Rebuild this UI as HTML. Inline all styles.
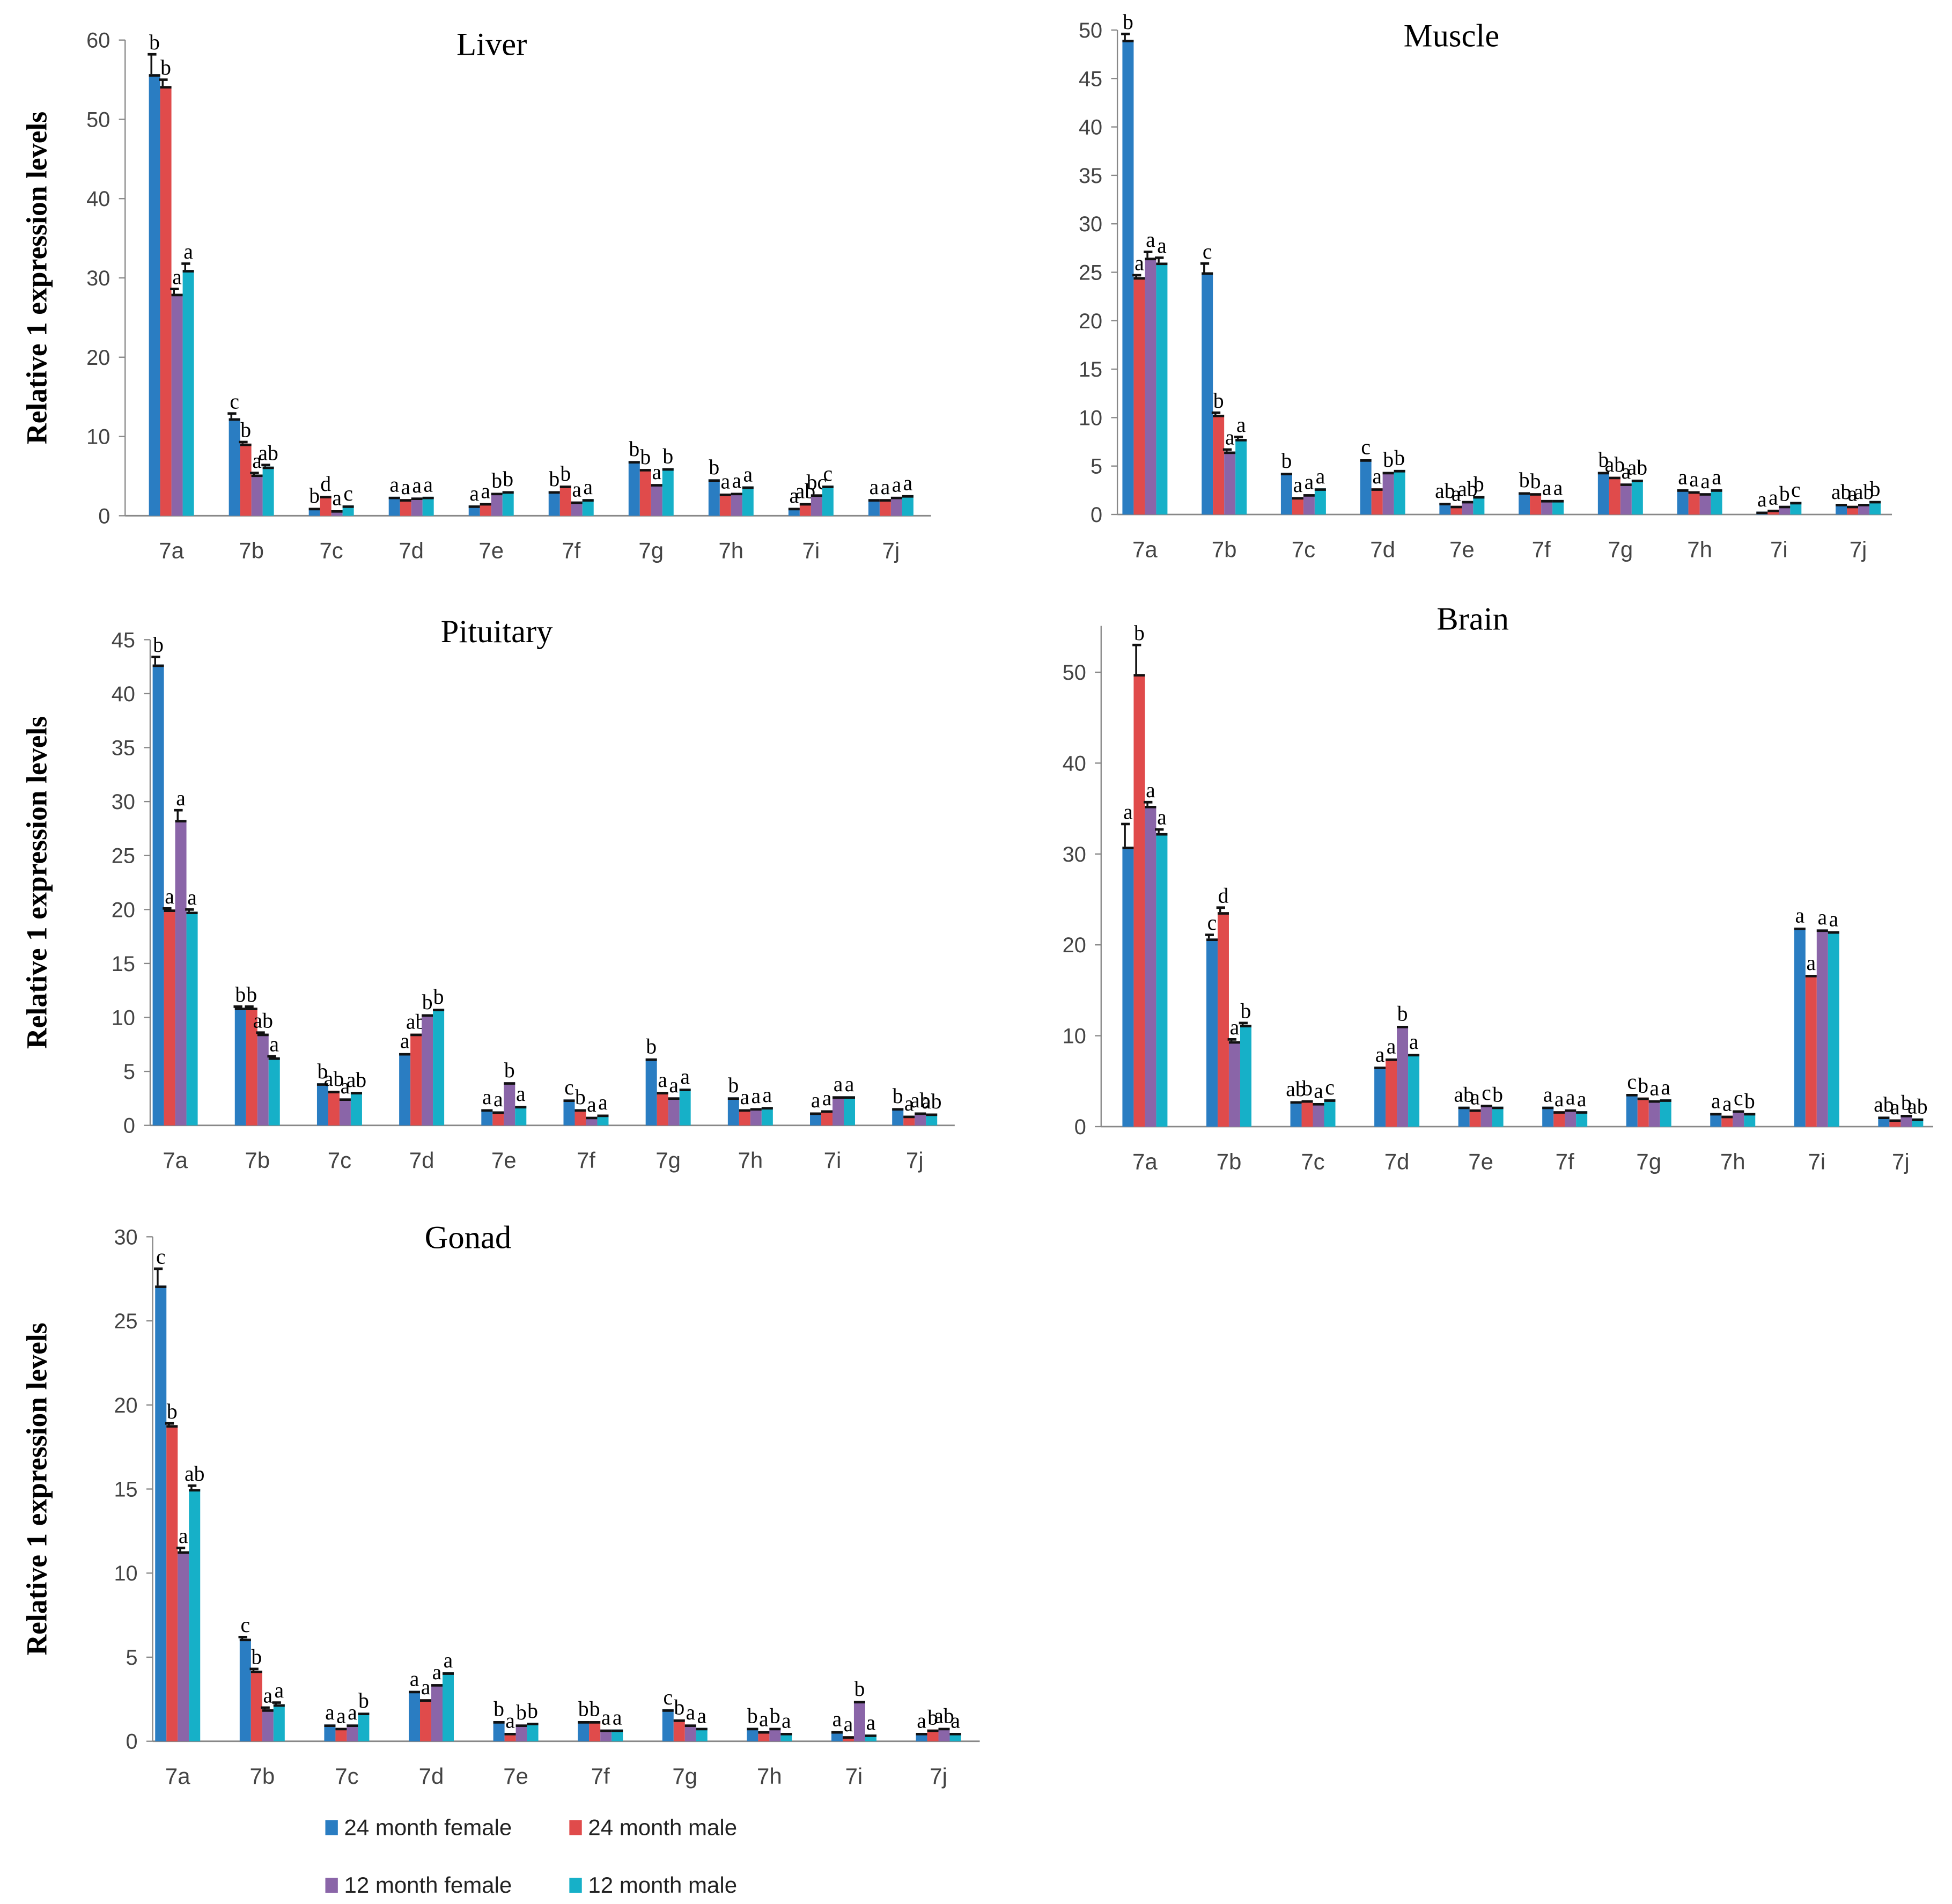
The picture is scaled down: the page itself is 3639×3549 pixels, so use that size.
<!DOCTYPE html>
<html><head><meta charset="utf-8"><style>
html,body{margin:0;padding:0;background:#fff}
svg{display:block}
</style></head><body>
<svg id="fig" width="3639" height="3549" viewBox="0 0 1560 1521" preserveAspectRatio="none" xmlns="http://www.w3.org/2000/svg">
<g font-family="Liberation Sans, sans-serif" font-size="18" fill="#222">
<rect x="260" y="1454" width="10" height="12" fill="#2a7dc2"/>
<text x="275" y="1466">24 month female</text>
<rect x="455" y="1454" width="10" height="12" fill="#e04b4b"/>
<text x="470" y="1466">24 month male</text>
<rect x="260" y="1500" width="10" height="12" fill="#8a65a8"/>
<text x="275" y="1512">12 month female</text>
<rect x="455" y="1500" width="10" height="12" fill="#16b0c8"/>
<text x="470" y="1512">12 month male</text>
</g>
</svg>
<script>
const categories = ["7a","7b","7c","7d","7e","7f","7g","7h","7i","7j"];
const seriesColors = ["#2a7dc2","#e04b4b","#8a65a8","#16b0c8"];
const liverValues = [[55.7,54.2,28,31],[12.3,9.1,5.2,6.2],[1.0,2.5,0.7,1.3],[2.4,2.1,2.3,2.4],[1.3,1.6,2.9,3.1],[3.1,3.8,1.8,2.1],[6.9,5.9,4.0,6.0],[4.6,2.8,2.9,3.7],[1.0,1.6,2.7,3.8],[2.1,2.1,2.4,2.6]];
const liverErrors = [[2.5,0.8,0.6,0.8],[0.6,0.2,0.2,0.2]];
const liverLetters = [["b","b","a","a"],["c","b","a","ab"],["b","d","a","c"],["a","a","a","a"],["a","a","b","b"],["b","b","a","a"],["b","b","a","b"],["b","a","a","a"],["a","ab","bc","c"],["a","a","a","a"]];
const liverTicks = [0,10,20,30,40,50,60];
const muscleValues = [[49,24.5,26.5,26],[25,10.3,6.5,7.8],[4.3,1.8,2.1,2.7],[5.7,2.7,4.4,4.6],[1.2,0.9,1.4,1.9],[2.3,2.2,1.5,1.5],[4.4,3.9,3.2,3.6],[2.6,2.4,2.2,2.6],[0.3,0.5,0.9,1.3],[1.1,0.9,1.1,1.4]];
const muscleErrors = [[0.6,0.2,0.6,0.5],[0.9,0.2,0.2,0.2]];
const muscleLetters = [["b","a","a","a"],["c","b","a","a"],["b","a","a","a"],["c","a","b","b"],["ab","a","ab","b"],["b","b","a","a"],["b","ab","a","ab"],["a","a","a","a"],["a","a","b","c"],["ab","a","ab","b"]];
const muscleTicks = [0,5,10,15,20,25,30,35,40,45,50];
const pituitaryValues = [[42.7,20,28.3,19.8],[10.9,10.9,8.5,6.3],[3.9,3.2,2.5,3.1],[6.7,8.5,10.3,10.8],[1.5,1.3,4.0,1.8],[2.4,1.5,0.8,1.0],[6.2,3.1,2.6,3.4],[2.6,1.5,1.6,1.7],[1.2,1.4,2.7,2.7],[1.6,0.9,1.2,1.1]];
const pituitaryErrors = [[0.7,0.1,0.9,0.2],[0.1,0.1,0.1,0.1]];
const pituitaryLetters = [["b","a","a","a"],["b","b","ab","a"],["b","ab","a","ab"],["a","ab","b","b"],["a","a","b","a"],["c","b","a","a"],["b","a","a","a"],["b","a","a","a"],["a","a","a","a"],["b","a","ab","ab"]];
const pituitaryTicks = [0,5,10,15,20,25,30,35,40,45];
const brainValues = [[30.8,49.8,35.3,32.3],[20.7,23.6,9.4,11.2],[2.8,2.9,2.6,3.0],[6.6,7.5,11.1,8],[2.2,1.9,2.4,2.2],[2.2,1.7,1.9,1.7],[3.6,3.2,2.9,3.0],[1.5,1.2,1.8,1.5],[21.9,16.7,21.7,21.5],[1.1,0.8,1.3,0.9]];
const brainErrors = [[2.5,3.2,0.4,0.4],[0.4,0.5,0.2,0.2]];
const brainLetters = [["a","b","a","a"],["c","d","a","b"],["ab","b","a","c"],["a","a","b","a"],["ab","a","c","b"],["a","a","a","a"],["c","b","a","a"],["a","a","c","b"],["a","a","a","a"],["ab","a","b","ab"]];
const brainTicks = [0,10,20,30,40,50];
const gonadValues = [[27.1,18.8,11.3,15],[6.1,4.2,1.9,2.2],[1.0,0.8,1.0,1.7],[3.0,2.5,3.4,4.1],[1.2,0.5,1.0,1.1],[1.2,1.2,0.7,0.7],[1.9,1.3,1.0,0.8],[0.8,0.6,0.8,0.5],[0.6,0.3,2.4,0.4],[0.5,0.7,0.8,0.5]];
const gonadErrors = [[1.0,0.1,0.2,0.2],[0.1,0.1,0.1,0.1]];
const gonadLetters = [["c","b","a","ab"],["c","b","a","a"],["a","a","a","b"],["a","a","a","a"],["b","a","b","b"],["b","b","a","a"],["c","b","a","a"],["b","a","b","a"],["a","a","b","a"],["a","b","ab","a"]];
const gonadTicks = [0,5,10,15,20,25,30];

const NS="http://www.w3.org/2000/svg";
const svg=document.getElementById('fig');
function mk(tag,attrs,parent){const e=document.createElementNS(NS,tag);for(const k in attrs)e.setAttribute(k,attrs[k]);parent.appendChild(e);return e;}

const panels=[
 {name:"liver",title:"Liver",tx:393,ty:44,ax:100,top:32,zero:412,max:60,c0:137,c9:712,end:744,vals:liverValues,errs:liverErrors,lets:liverLetters,ticks:liverTicks,ylab:true},
 {name:"muscle",title:"Muscle",tx:1160,ty:37,ax:893,top:24,zero:411,max:50,c0:915,c9:1485,end:1512,vals:muscleValues,errs:muscleErrors,lets:muscleLetters,ticks:muscleTicks,ylab:false},
 {name:"pituitary",title:"Pituitary",tx:397,ty:513,ax:120,top:511,zero:899,max:45,c0:140,c9:731,end:763,vals:pituitaryValues,errs:pituitaryErrors,lets:pituitaryLetters,ticks:pituitaryTicks,ylab:true},
 {name:"brain",title:"Brain",tx:1177,ty:503,ax:880,top:537,zero:900,max:50,axTop:500,c0:915,c9:1519,end:1545,vals:brainValues,errs:brainErrors,lets:brainLetters,ticks:brainTicks,ylab:false},
 {name:"gonad",title:"Gonad",tx:374,ty:997,ax:122,top:988,zero:1391,max:30,c0:142,c9:750,end:783,vals:gonadValues,errs:gonadErrors,lets:gonadLetters,ticks:gonadTicks,ylab:true}
];

panels.forEach(p=>{
 const g=mk('g',{},svg);
 
 
 const y=v=>p.zero-(v/p.max)*(p.zero-p.top);
 const step=(p.c9-p.c0)/9;
 const x=i=>p.c0+i*step;
 const bw=9;
 const t=mk('text',{x:p.tx,y:p.ty,'text-anchor':'middle','font-family':'Liberation Serif, serif','font-size':26,fill:'#000'},g);
 t.textContent=p.title;
 
 
 const ya=mk('line',{x1:p.ax,y1:p.axTop||p.top,x2:p.ax,y2:p.zero,stroke:'#888','stroke-width':1},g);
 
 
 const xa=mk('line',{x1:p.ax,y1:p.zero,x2:p.end,y2:p.zero,stroke:'#888','stroke-width':1.2},g);
 
 
 p.ticks.forEach(tv=>{
  mk('line',{x1:p.ax-5,y1:y(tv),x2:p.ax,y2:y(tv),stroke:'#888'},g);
  const tl=mk('text',{x:p.ax-12,y:y(tv)+6,'text-anchor':'end','font-family':'Liberation Sans, sans-serif','font-size':17,fill:'#444'},g);
  tl.textContent=tv;
  
  
 });
 if(p.ylab){
  const cy=(p.top+p.zero)/2;
  const yl=mk('text',{x:0,y:0,transform:`translate(37,${cy}) rotate(-90)`,'text-anchor':'middle','font-family':'Liberation Serif, serif','font-size':23,'font-weight':'bold',fill:'#000'},g);
  yl.textContent='Relative 1 expression levels';
  
  
 }
 categories.forEach((c,i)=>{
  const cl=mk('text',{x:x(i),y:p.zero+34,'text-anchor':'middle','font-family':'Liberation Sans, sans-serif','font-size':18,fill:'#444'},g);
  cl.textContent=c;
  
  
  p.vals[i].forEach((v,s)=>{
   const bx=x(i)-2*bw+s*bw;
   const r=mk('rect',{x:bx,y:y(v),width:bw,height:p.zero-y(v),fill:seriesColors[s]},g);
   
   
   mk('line',{x1:bx,y1:y(v)+1,x2:bx+bw,y2:y(v)+1,stroke:'#111','stroke-width':2},g);
   const e=(p.errs[i]&&p.errs[i][s])||0;
   let topY=y(v);
   if(e>0){
    const ey=y(v+e);
    mk('line',{x1:bx+2,y1:ey,x2:bx+2,y2:y(v),stroke:'#111','stroke-width':1.5},g);
    mk('line',{x1:bx-1,y1:ey,x2:bx+6,y2:ey,stroke:'#111','stroke-width':2},g);
    topY=ey;
   }
   const lt=mk('text',{x:bx+bw/2,y:topY-4,'text-anchor':'middle','font-family':'Liberation Serif, serif','font-size':17,fill:'#000'},g);
   lt.textContent=p.lets[i][s];
   
   
  });
 });
});
</script>
</body></html>
